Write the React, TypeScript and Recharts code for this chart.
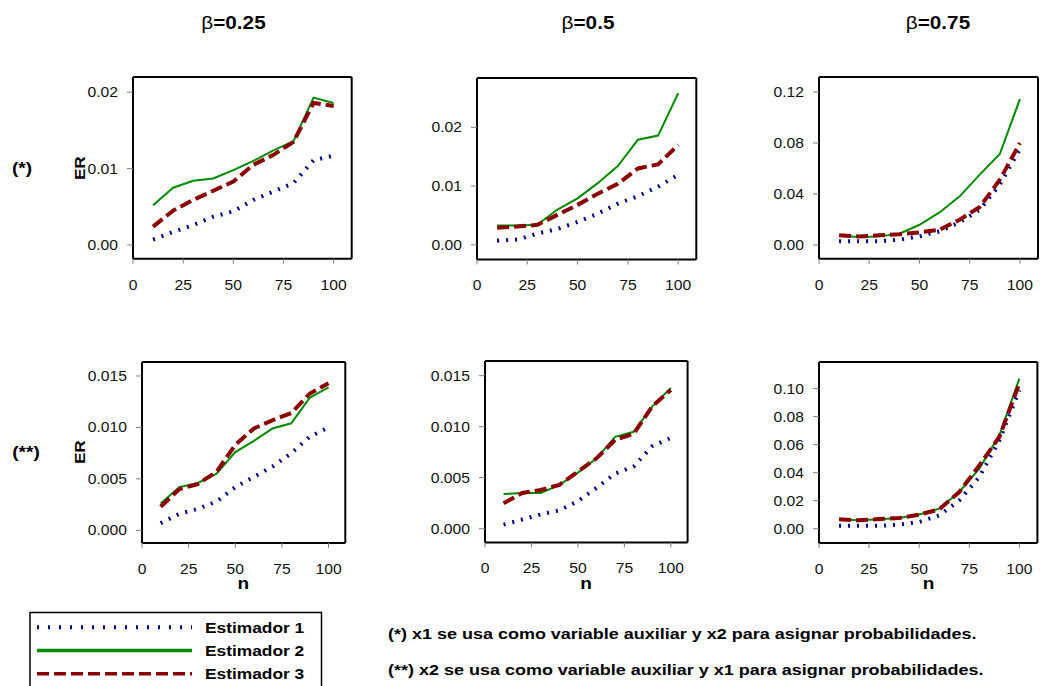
import React from "react";
import { LineChart, Line, XAxis, YAxis } from "recharts";

// sample sizes
const nValues = [10, 20, 30, 40, 50, 60, 70, 80, 90, 100];
const xTicks = [0, 25, 50, 75, 100];

const seriesNames = ["Estimador 1", "Estimador 2", "Estimador 3"];
const betaLabels = ["β=0.25", "β=0.5", "β=0.75"];
const rowLabels = ["(*)", "(**)"];
const footnotes = [
  "(*) x1 se usa como variable auxiliar y x2 para asignar probabilidades.",
  "(**) x2 se usa como variable auxiliar y x1 para asignar probabilidades.",
];

// (*) beta = 0.25
const star025Est1 = [0.0007, 0.0017, 0.0026, 0.0037, 0.0044, 0.0059, 0.007, 0.0081, 0.0111, 0.0117];
const star025Est2 = [0.0052, 0.0075, 0.0084, 0.0087, 0.0098, 0.011, 0.0124, 0.0136, 0.0193, 0.0186];
const star025Est3 = [0.0024, 0.0045, 0.0059, 0.0071, 0.0083, 0.0105, 0.0118, 0.0135, 0.0186, 0.0182];

// (*) beta = 0.5
const star05Est1 = [0.0007, 0.0009, 0.0019, 0.0027, 0.0039, 0.0053, 0.007, 0.0083, 0.0099, 0.0119];
const star05Est2 = [0.0033, 0.0033, 0.0034, 0.006, 0.0079, 0.0105, 0.0134, 0.0179, 0.0186, 0.0258];
const star05Est3 = [0.0029, 0.0031, 0.0034, 0.0051, 0.0068, 0.0087, 0.0104, 0.013, 0.0137, 0.017];

// (*) beta = 0.75
const star075Est1 = [0.0029, 0.0029, 0.0029, 0.0042, 0.0068, 0.0107, 0.0178, 0.0277, 0.0473, 0.0753];
const star075Est2 = [0.0073, 0.0063, 0.0068, 0.0089, 0.0159, 0.0256, 0.0382, 0.0552, 0.0714, 0.1145];
const star075Est3 = [0.0076, 0.0068, 0.0076, 0.0084, 0.0099, 0.012, 0.0199, 0.0298, 0.0512, 0.08];

// (**) beta = 0.25
const dbl025Est1 = [0.0007, 0.0016, 0.0021, 0.0028, 0.0042, 0.0052, 0.0062, 0.0075, 0.0091, 0.01];
const dbl025Est2 = [0.0026, 0.0042, 0.0046, 0.0055, 0.0076, 0.0087, 0.0099, 0.0104, 0.0129, 0.0139];
const dbl025Est3 = [0.0023, 0.004, 0.0045, 0.0057, 0.0083, 0.0099, 0.0107, 0.0114, 0.0133, 0.0143];

// (**) beta = 0.5
const dbl05Est1 = [0.0004, 0.0009, 0.0014, 0.0018, 0.0027, 0.004, 0.0054, 0.0061, 0.0081, 0.0089];
const dbl05Est2 = [0.0034, 0.0035, 0.0035, 0.0043, 0.0055, 0.0069, 0.009, 0.0095, 0.012, 0.0138];
const dbl05Est3 = [0.0025, 0.0035, 0.0038, 0.0043, 0.0056, 0.0069, 0.0087, 0.0093, 0.012, 0.0136];

// (**) beta = 0.75
const dbl075Est1 = [0.0021, 0.0021, 0.0021, 0.0029, 0.0048, 0.0095, 0.0202, 0.0369, 0.0631, 0.0988];
const dbl075Est2 = [0.0067, 0.006, 0.0067, 0.0076, 0.0102, 0.0143, 0.0262, 0.0429, 0.0667, 0.1071];
const dbl075Est3 = [0.0067, 0.006, 0.0069, 0.0076, 0.01, 0.0138, 0.0262, 0.0452, 0.0655, 0.1036];

const yTicksA = [0, 0.01, 0.02];
const yTicksB = [0, 0.04, 0.08, 0.12];
const yTicksC = [0, 0.005, 0.01, 0.015];
const yTicksD = [0, 0.02, 0.04, 0.06, 0.08, 0.1];

const FONT = "'Liberation Sans', Arial, Helvetica, sans-serif";
const SX = 1.12;
const BLUE = "#00008b";
const GREEN = "#008b00";
const RED = "#8b0000";

function makeRows(a: number[], b: number[], c: number[]) {
  return nValues.map((n, i) => ({ n, e1: a[i], e2: b[i], e3: c[i] }));
}

type Box = { x0: number; x1: number; y0: number; y1: number };

function XTick(props: any) {
  const { x, y, payload } = props;
  return (
    <text
      transform={`translate(${x},${y}) scale(${SX},1)`}
      textAnchor="middle"
      dy="0.71em"
      fontSize={14}
      fontFamily={FONT}
      fill="#111"
    >
      {payload.value}
    </text>
  );
}

function YTick(props: any) {
  const { x, y, payload, digits } = props;
  return (
    <text
      transform={`translate(${x},${y}) scale(${SX},1)`}
      textAnchor="end"
      dy="0.36em"
      fontSize={14}
      fontFamily={FONT}
      fill="#111"
    >
      {Number(payload.value).toFixed(digits)}
    </text>
  );
}

function Panel({
  rows,
  box,
  yDomain,
  yTicks,
  digits,
}: {
  rows: any[];
  box: Box;
  yDomain: [number, number];
  yTicks: number[];
  digits: number;
}) {
  const wl = 70;
  const wr = 14;
  const ht = 12;
  const hb = 40;
  const W = wl + (box.x1 - box.x0) + wr;
  const H = ht + (box.y1 - box.y0) + hb;
  const frame = { stroke: "#000", strokeWidth: 2 };
  const tl = { stroke: "#808080", strokeWidth: 1 };
  return (
    <div style={{ position: "absolute", left: box.x0 - wl, top: box.y0 - ht }}>
      <LineChart width={W} height={H} data={rows} margin={{ top: 0, right: 0, bottom: 0, left: 0 }}>
        <XAxis
          xAxisId="b"
          dataKey="n"
          type="number"
          domain={[0, 109]}
          ticks={xTicks}
          allowDataOverflow
          interval={0}
          height={hb}
          tickSize={5}
          tickMargin={16}
          axisLine={frame}
          tickLine={tl}
          tick={<XTick />}
        />
        <XAxis
          xAxisId="t"
          orientation="top"
          dataKey="n"
          type="number"
          domain={[0, 109]}
          ticks={xTicks}
          allowDataOverflow
          interval={0}
          height={ht}
          tickSize={5}
          axisLine={frame}
          tickLine={tl}
          tick={false}
        />
        <YAxis
          yAxisId="l"
          type="number"
          domain={yDomain}
          ticks={yTicks}
          allowDataOverflow
          interval={0}
          width={wl}
          tickSize={6}
          tickMargin={9}
          axisLine={frame}
          tickLine={tl}
          tick={<YTick digits={digits} />}
        />
        <YAxis
          yAxisId="r"
          orientation="right"
          type="number"
          domain={yDomain}
          ticks={yTicks}
          allowDataOverflow
          interval={0}
          width={wr}
          tickSize={6}
          axisLine={frame}
          tickLine={tl}
          tick={false}
        />
        <Line
          xAxisId="b"
          yAxisId="l"
          dataKey="e1"
          name={seriesNames[0]}
          stroke={BLUE}
          strokeWidth={4}
          strokeDasharray="2 7"
          dot={false}
          isAnimationActive={false}
        />
        <Line
          xAxisId="b"
          yAxisId="l"
          dataKey="e2"
          name={seriesNames[1]}
          stroke={GREEN}
          strokeWidth={2}
          dot={false}
          isAnimationActive={false}
        />
        <Line
          xAxisId="b"
          yAxisId="l"
          dataKey="e3"
          name={seriesNames[2]}
          stroke={RED}
          strokeWidth={4}
          strokeDasharray="12 5"
          dot={false}
          isAnimationActive={false}
        />
      </LineChart>
    </div>
  );
}

function Label({
  x,
  y,
  text,
  size,
  anchor = "middle",
  rotate = 0,
  sx = SX,
}: {
  x: number;
  y: number;
  text: React.ReactNode;
  size: number;
  anchor?: "start" | "middle" | "end";
  rotate?: number;
  sx?: number;
}) {
  return (
    <text
      transform={`translate(${x},${y}) rotate(${rotate}) scale(${sx},1)`}
      textAnchor={anchor}
      dy="0.36em"
      fontSize={size}
      fontWeight={700}
      fontFamily={FONT}
      fill="#000"
    >
      {text}
    </text>
  );
}

const panels = [
  { rows: makeRows(star025Est1, star025Est2, star025Est3), box: { x0: 133.3, x1: 352, y0: 77.3, y1: 259 }, yDomain: [-0.0018, 0.022] as [number, number], yTicks: yTicksA, digits: 2 },
  { rows: makeRows(star05Est1, star05Est2, star05Est3), box: { x0: 476.7, x1: 696, y0: 77.5, y1: 259 }, yDomain: [-0.0025, 0.0284] as [number, number], yTicks: yTicksA, digits: 2 },
  { rows: makeRows(star075Est1, star075Est2, star075Est3), box: { x0: 819.3, x1: 1038.3, y0: 77.3, y1: 259 }, yDomain: [-0.0107, 0.1318] as [number, number], yTicks: yTicksB, digits: 2 },
  { rows: makeRows(dbl025Est1, dbl025Est2, dbl025Est3), box: { x0: 141.7, x1: 345, y0: 361.7, y1: 542.7 }, yDomain: [-0.00123, 0.01636] as [number, number], yTicks: yTicksC, digits: 3 },
  { rows: makeRows(dbl05Est1, dbl05Est2, dbl05Est3), box: { x0: 484.7, x1: 687.3, y0: 361.3, y1: 542.7 }, yDomain: [-0.00134, 0.01644] as [number, number], yTicks: yTicksC, digits: 3 },
  { rows: makeRows(dbl075Est1, dbl075Est2, dbl075Est3), box: { x0: 819.3, x1: 1037.7, y0: 361.7, y1: 542.7 }, yDomain: [-0.0102, 0.119] as [number, number], yTicks: yTicksD, digits: 2 },
];

const titleX = [233.5, 588, 938];
const legendStyles = [
  { color: BLUE, width: 4, dash: "2 9" },
  { color: GREEN, width: 3.5, dash: undefined },
  { color: RED, width: 3.5, dash: "12 5" },
];

export default function App() {
  return (
    <div
      style={{
        position: "absolute",
        left: 0,
        top: 0,
        width: 1040,
        height: 686,
        overflow: "hidden",
        background: "#fff",
      }}
    >
      <svg width={1040} height={686} style={{ position: "absolute", left: 0, top: 0 }}>
        {betaLabels.map((t, i) => (
          <Label
            key={t}
            x={titleX[i]}
            y={22}
            size={18.5}
            text={
              <>
                <tspan fontWeight={400}>β</tspan>
                {t.slice(1)}
              </>
            }
          />
        ))}
        <Label x={22} y={168} size={17} text={rowLabels[0]} />
        <Label x={26} y={452} size={17} text={rowLabels[1]} />
        <Label x={80} y={168} size={15} rotate={-90} text="ER" />
        <Label x={80} y={452} size={15} rotate={-90} text="ER" />
        {panels.slice(3).map((p, i) => (
          <Label key={i} x={(p.box.x0 + p.box.x1) / 2} y={583} size={17} text="n" />
        ))}
        <rect x={30} y={612.5} width={291.5} height={90} fill="none" stroke="#000" strokeWidth={1.5} />
        {seriesNames.map((s, i) => (
          <g key={s}>
            <line
              x1={37}
              x2={192}
              y1={627.3 + i * 23.2}
              y2={627.3 + i * 23.2}
              stroke={legendStyles[i].color}
              strokeWidth={legendStyles[i].width}
              strokeDasharray={legendStyles[i].dash}
            />
            <Label x={205} y={627.3 + i * 23.2} size={15.5} anchor="start" text={s} />
          </g>
        ))}
        {footnotes.map((f, i) => (
          <Label key={i} x={388} y={634 + i * 36} size={15} sx={1.2} anchor="start" text={f} />
        ))}
      </svg>
      {panels.map((p, i) => (
        <Panel key={i} rows={p.rows} box={p.box} yDomain={p.yDomain} yTicks={p.yTicks} digits={p.digits} />
      ))}
    </div>
  );
}
